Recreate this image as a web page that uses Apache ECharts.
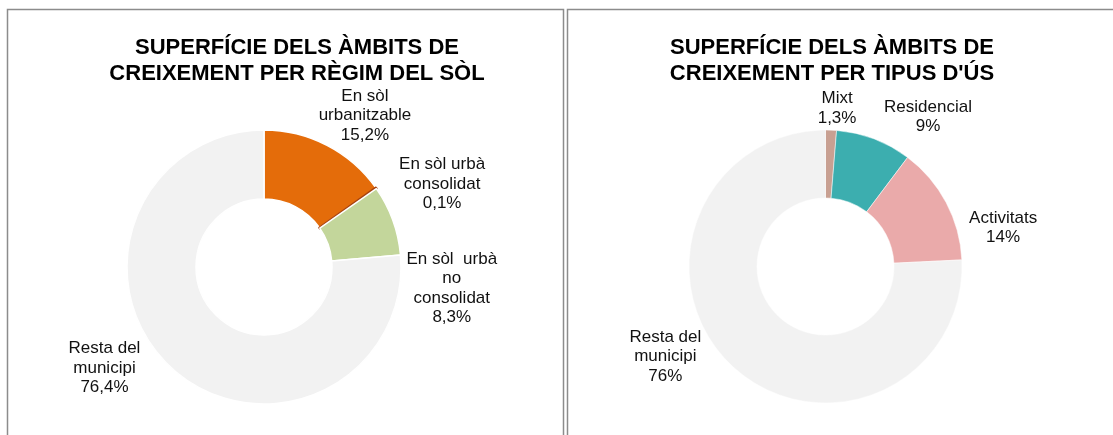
<!DOCTYPE html>
<html>
<head>
<meta charset="utf-8">
<title>Superfície dels àmbits de creixement</title>
<script src="https://cdn.jsdelivr.net/npm/echarts@6/dist/echarts.min.js"></script>
<style>
  html, body { margin: 0; padding: 0; background: #fff; }
  #chart { width: 1113px; height: 435px; }
</style>
</head>
<body>
<div id="chart"></div>
<script>
// --- data ---
const regimTitle = 'SUPERFÍCIE DELS ÀMBITS DE\nCREIXEMENT PER RÈGIM DEL SÒL'
const regimNames = ['En sòl\nurbanitzable', 'En sòl urbà\nconsolidat', 'En sòl  urbà\nno\nconsolidat', 'Resta del\nmunicipi']
const regimValues = [15.2, 0.1, 8.3, 76.4]

const usTitle = "SUPERFÍCIE DELS ÀMBITS DE\nCREIXEMENT PER TIPUS D'ÚS"
const usNames = ['Mixt', 'Residencial', 'Activitats', 'Resta del\nmunicipi']
const usValues = [1.3, 9, 14, 76]

// --- styles ---
const regimColors = ['#E46C0A', '#A5400C', '#C3D69B', '#F2F2F2']
const usColors = ['#C8A092', '#3CAEAF', '#EAAAAA', '#F2F2F2']
// label offsets from the slice's outer edge (Excel-like placement)
const regimLabelNudge = [[38, -30], [66, -4], [59, 68], [-67, 0]]
const usLabelNudge = [[6, -22], [54, -22], [57, 25], [-66, -9]]

const FONT = '"Liberation Sans", Arial, sans-serif'

function fmtPct(v) {
  return String(v).replace('.', ',') + '%'
}

function buildData(names, values, colors, borderW) {
  return names.map((name, i) => {
    const thin = values[i] < 0.5
    return {
      name: name,
      value: values[i],
      itemStyle: {
        color: colors[i],
        // a sliver this thin only shows if it is outlined in its own colour
        borderColor: thin ? colors[i] : '#fff',
        borderWidth: thin ? 2.5 : borderW
      }
    }
  })
}

// place each label from the slice's mid angle on the outer edge, then nudge it
function labelLayoutFor(values, center, outerR, nudge) {
  const total = values.reduce((a, b) => a + b, 0)
  return function (params) {
    const i = params.dataIndex
    let before = 0
    for (let k = 0; k < i; k++) before += values[k]
    const ang = (before + values[i] / 2) / total * Math.PI * 2 // clockwise from 12 o'clock
    const d = nudge[i]
    return {
      x: center[0] + outerR * Math.sin(ang) + d[0],
      y: center[1] - outerR * Math.cos(ang) + d[1],
      align: 'center',
      verticalAlign: 'middle'
    }
  }
}

function pieSeries(names, values, colors, borderW, center, radius, nudge) {
  return {
    type: 'pie',
    center: center,
    radius: radius,
    startAngle: 90,
    clockwise: true,
    avoidLabelOverlap: false,
    emphasis: { disabled: true },
    label: {
      show: true,
      position: 'outside',
      formatter: p => p.name + '\n' + fmtPct(p.value),
      color: '#111',
      fontFamily: FONT,
      fontSize: 17,
      lineHeight: 19.5,
      align: 'center'
    },
    labelLine: { show: false },
    labelLayout: labelLayoutFor(values, center, radius[1], nudge),
    data: buildData(names, values, colors, borderW)
  }
}

const myChart = echarts.init(document.getElementById('chart'), null, { renderer: 'canvas' })
const titleStyle = { fontFamily: FONT, fontSize: 22, fontWeight: 'bold', lineHeight: 26, color: '#000' }
myChart.setOption({
  animation: false,
  backgroundColor: '#fff',
  title: [
    { text: regimTitle, left: 297, top: 35, padding: 0, textAlign: 'center', textStyle: titleStyle },
    { text: usTitle, left: 832, top: 35, padding: 0, textAlign: 'center', textStyle: titleStyle }
  ],
  graphic: [
    {
      type: 'rect',
      z: -10,
      shape: { x: 7.5, y: 9.5, width: 556, height: 450 },
      style: { fill: 'none', stroke: '#8c8c8c', lineWidth: 1.5 }
    },
    {
      type: 'rect',
      z: -10,
      shape: { x: 567.5, y: 9.5, width: 570, height: 450 },
      style: { fill: 'none', stroke: '#8c8c8c', lineWidth: 1.5 }
    }
  ],
  series: [
    pieSeries(regimNames, regimValues, regimColors, 1.5, [264, 267], [68, 137], regimLabelNudge),
    pieSeries(usNames, usValues, usColors, 0.5, [825.5, 266.5], [68.5, 136.5], usLabelNudge)
  ]
})
</script>
</body>
</html>
